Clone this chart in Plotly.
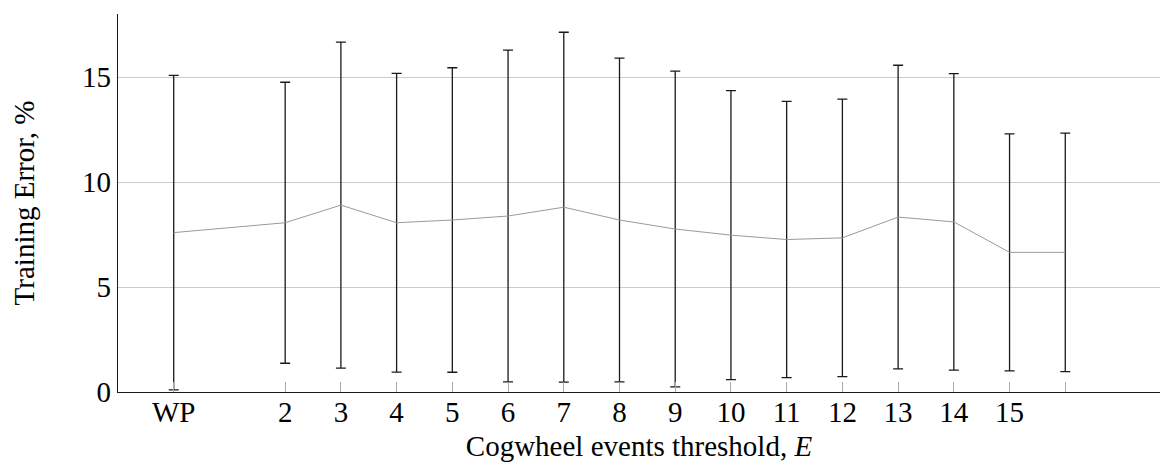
import plotly.graph_objects as go

# Cogwheel events threshold categories (WP = without pruning), plus a final unlabeled run
x_pos = [0, 2, 3, 4, 5, 6, 7, 8, 9, 10, 11, 12, 13, 14, 15, 16]
tick_text = ["WP", "2", "3", "4", "5", "6", "7", "8", "9", "10", "11", "12", "13", "14", "15", ""]

# Mean training error (%) and its standard deviation
mean_err = [7.59, 8.06, 8.90, 8.06, 8.19, 8.38, 8.80, 8.19, 7.76, 7.47, 7.26, 7.34, 8.33, 8.10, 6.65, 6.65]
std_err = [7.49, 6.69, 7.76, 7.11, 7.25, 7.90, 8.33, 7.71, 7.52, 6.88, 6.58, 6.61, 7.23, 7.06, 5.64, 5.68]

y_ticks = [0, 5, 10, 15]

FONT = "Liberation Serif"
FS = 29

fig = go.Figure()
fig.add_trace(go.Scatter(
    x=x_pos,
    y=mean_err,
    mode="lines",
    line=dict(color="#9a9a9a", width=1),
    error_y=dict(type="data", array=std_err, symmetric=True,
                 color="#1a1a1a", thickness=1.3, width=5),
    showlegend=False,
    hoverinfo="skip",
))

fig.update_layout(
    width=1169,
    height=467,
    margin=dict(l=118, r=9, t=14, b=75),
    paper_bgcolor="white",
    plot_bgcolor="white",
    font=dict(family=FONT, size=FS, color="black"),
    xaxis=dict(
        range=[-1.0, 17.7],
        tickmode="array",
        tickvals=x_pos,
        ticktext=tick_text,
        ticks="inside",
        ticklen=10,
        tickwidth=1,
        tickcolor="#aaaaaa",
        ticklabelstandoff=-6,
        showgrid=False,
        zeroline=False,
        showline=True,
        linecolor="#1a1a1a",
        linewidth=1.3,
        tickfont=dict(family=FONT, size=FS),
        title=dict(text="Cogwheel events threshold, <i>E</i>",
                   font=dict(family=FONT, size=FS), standoff=8),
    ),
    yaxis=dict(
        range=[0, 18],
        tickmode="array",
        tickvals=y_ticks,
        ticks="",
        showgrid=True,
        gridcolor="#cccccc",
        gridwidth=1,
        zeroline=False,
        showline=True,
        linecolor="#1a1a1a",
        linewidth=1.3,
        tickfont=dict(family=FONT, size=FS),
        title=dict(text="Training Error, %", font=dict(family=FONT, size=FS), standoff=38),
    ),
)

fig.write_html("out.html")
